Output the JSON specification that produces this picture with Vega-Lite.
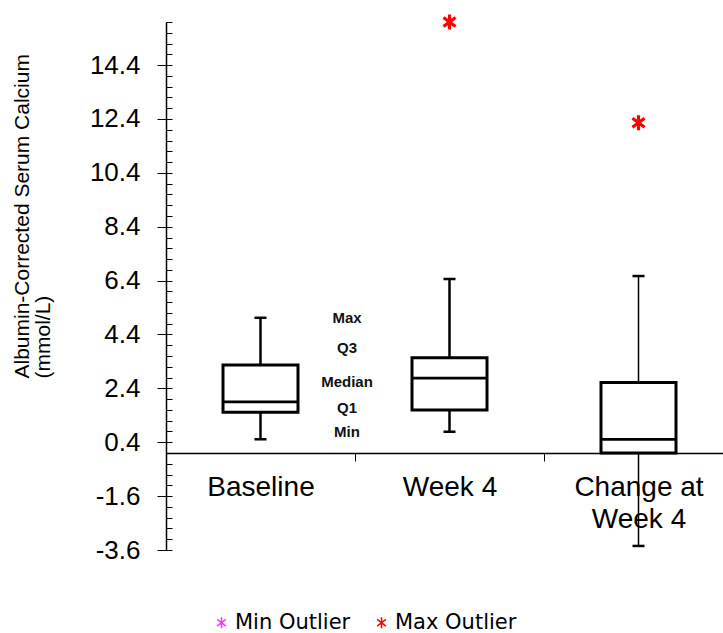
{
  "$schema": "https://vega.github.io/schema/vega-lite/v6.json",
  "width": 557,
  "height": 528,
  "autosize": {"type": "none"},
  "padding": {"left": 166, "top": 22, "right": 0, "bottom": 83},
  "background": "white",
  "config": {"view": {"stroke": null}, "font": "Liberation Sans"},
  "datasets": {
    "boxes": [
      {"cat": "Baseline", "min": 0.51, "q1": 1.51, "median": 1.9, "q3": 3.27, "max": 5.02},
      {"cat": "Week 4", "min": 0.79, "q1": 1.6, "median": 2.78, "q3": 3.54, "max": 6.46},
      {"cat": "Change at Week 4", "min": -3.45, "q1": 0.0, "median": 0.51, "q3": 2.62, "max": 6.57}
    ],
    "outliers": [
      {"cat": "Week 4", "value": 16.0, "type": "Max Outlier"},
      {"cat": "Change at Week 4", "value": 12.26, "type": "Max Outlier"}
    ],
    "notes": [
      {"cat": "Baseline", "label": "Max", "value": 5.01},
      {"cat": "Baseline", "label": "Q3", "value": 3.9},
      {"cat": "Baseline", "label": "Median", "value": 2.64},
      {"cat": "Baseline", "label": "Q1", "value": 1.67},
      {"cat": "Baseline", "label": "Min", "value": 0.78}
    ]
  },
  "resolve": {"axis": {"y": "independent"}},
  "layer": [
    {
      "data": {"name": "boxes"},
      "mark": {"type": "rule", "color": "black"},
      "encoding": {
        "x": {
          "field": "cat", "type": "nominal",
          "sort": ["Baseline", "Week 4", "Change at Week 4"],
          "scale": {"range": [0, 567], "paddingInner": 0, "paddingOuter": 0},
          "axis": {
            "title": null, "orient": "bottom", "offset": -97,
            "domainColor": "black", "domainWidth": 1.5,
            "tickBand": "extent", "tickColor": "black", "tickSize": 8, "tickWidth": 1,
            "labelFontSize": 28, "labelColor": "black", "labelFont": "Liberation Sans",
            "labelPadding": 12, "labelLineHeight": 32, "labelAngle": 0,
            "labelExpr": "datum.value == 'Change at Week 4' ? ['Change at', 'Week 4'] : datum.value",
            "grid": false
          }
        },
        "y": {
          "field": "min", "type": "quantitative",
          "scale": {"domain": [-3.6, 16], "nice": false, "zero": false},
          "axis": {
            "orient": "left",
            "values": [-3.6, -1.6, 0.4, 2.4, 4.4, 6.4, 8.4, 10.4, 12.4, 14.4],
            "labelExpr": "replace(format(datum.value, '.1f'), '\u2212', '-')",
            "tickSize": 9, "tickColor": "black", "tickWidth": 1,
            "domainColor": "black", "domainWidth": 1.5,
            "labelFontSize": 26, "labelColor": "black", "labelFont": "Liberation Sans", "labelPadding": 17,
            "grid": false,
            "title": ["Albumin-Corrected Serum Calcium", "(mmol/L)"],
            "titleFont": "Liberation Sans", "titleFontSize": 21, "titleFontWeight": "normal", "titleColor": "black",
            "titleAngle": 270, "titleAlign": "left", "titleBaseline": "top",
            "titleX": -155, "titleY": 356, "titleLineHeight": 21
          }
        },
        "y2": {"field": "max"},
        "strokeWidth": {"condition": {"test": "datum.cat === 'Change at Week 4'", "value": 1.5}, "value": 2.5}
      }
    },
    {
      "data": {"name": "boxes"},
      "mark": {"type": "bar", "width": 75, "fill": "white", "stroke": "black", "strokeWidth": 3},
      "encoding": {
        "x": {"field": "cat", "type": "nominal", "sort": ["Baseline", "Week 4", "Change at Week 4"]},
        "y": {"field": "q1", "type": "quantitative", "scale": {"domain": [-3.6, 16], "nice": false, "zero": false}, "axis": null},
        "y2": {"field": "q3"}
      }
    },
    {
      "data": {"name": "boxes"},
      "mark": {"type": "tick", "size": 76, "thickness": 2.8, "color": "black", "opacity": 1},
      "encoding": {
        "x": {"field": "cat", "type": "nominal", "sort": ["Baseline", "Week 4", "Change at Week 4"]},
        "y": {
          "field": "median", "type": "quantitative",
          "scale": {"domain": [-3.6, 16], "nice": false, "zero": false},
          "axis": {
            "orient": "left",
            "values": [-3.6, -3.2, -2.8, -2.4, -2.0, -1.6, -1.2, -0.8, -0.4, 0.0, 0.4, 0.8, 1.2, 1.6, 2.0, 2.4, 2.8, 3.2, 3.6, 4.0, 4.4, 4.8, 5.2, 5.6, 6.0, 6.4, 6.8, 7.2, 7.6, 8.0, 8.4, 8.8, 9.2, 9.6, 10.0, 10.4, 10.8, 11.2, 11.6, 12.0, 12.4, 12.8, 13.2, 13.6, 14.0, 14.4, 14.8, 15.2, 15.6, 16.0],
            "tickSize": -6, "tickColor": "black", "tickWidth": 1,
            "labels": false, "domain": false, "grid": false, "title": null
          }
        }
      }
    },
    {
      "data": {"name": "boxes"},
      "mark": {"type": "tick", "size": 12, "thickness": 2.5, "color": "black", "opacity": 1},
      "encoding": {
        "x": {"field": "cat", "type": "nominal", "sort": ["Baseline", "Week 4", "Change at Week 4"]},
        "y": {"field": "min", "type": "quantitative", "scale": {"domain": [-3.6, 16], "nice": false, "zero": false}, "axis": null}
      }
    },
    {
      "data": {"name": "boxes"},
      "mark": {"type": "tick", "size": 12, "thickness": 2.5, "color": "black", "opacity": 1},
      "encoding": {
        "x": {"field": "cat", "type": "nominal", "sort": ["Baseline", "Week 4", "Change at Week 4"]},
        "y": {"field": "max", "type": "quantitative", "scale": {"domain": [-3.6, 16], "nice": false, "zero": false}, "axis": null}
      }
    },
    {
      "data": {"name": "outliers"},
      "mark": {"type": "point", "shape": "M0,-1L0,1M-0.8,-0.6L0.8,0.6M-0.8,0.6L0.8,-0.6", "filled": false, "size": 230, "strokeWidth": 3.2, "opacity": 1},
      "encoding": {
        "x": {"field": "cat", "type": "nominal", "sort": ["Baseline", "Week 4", "Change at Week 4"]},
        "y": {"field": "value", "type": "quantitative", "scale": {"domain": [-3.6, 16], "nice": false, "zero": false}, "axis": null},
        "color": {
          "field": "type", "type": "nominal",
          "scale": {"domain": ["Min Outlier", "Max Outlier"], "range": ["#ff33ff", "#ff0000"]},
          "legend": {
            "title": null, "orient": "none", "legendX": 45, "legendY": 590, "direction": "horizontal",
            "labelFontSize": 21, "labelColor": "black", "labelFont": "DejaVu Sans",
            "symbolType": "M0,-1L0,1M-0.8,-0.6L0.8,0.6M-0.8,0.6L0.8,-0.6",
            "symbolSize": 120, "symbolStrokeWidth": 1.5, "labelOffset": 3, "columnPadding": 20
          }
        }
      }
    },
    {
      "data": {"name": "notes"},
      "mark": {"type": "text", "fontSize": 15, "fontWeight": "bold", "color": "#111111", "dx": -8, "align": "center", "baseline": "middle", "font": "Liberation Sans"},
      "encoding": {
        "x": {"field": "cat", "type": "nominal", "sort": ["Baseline", "Week 4", "Change at Week 4"], "bandPosition": 1},
        "y": {"field": "value", "type": "quantitative", "scale": {"domain": [-3.6, 16], "nice": false, "zero": false}, "axis": null},
        "text": {"field": "label"}
      }
    }
  ]
}
